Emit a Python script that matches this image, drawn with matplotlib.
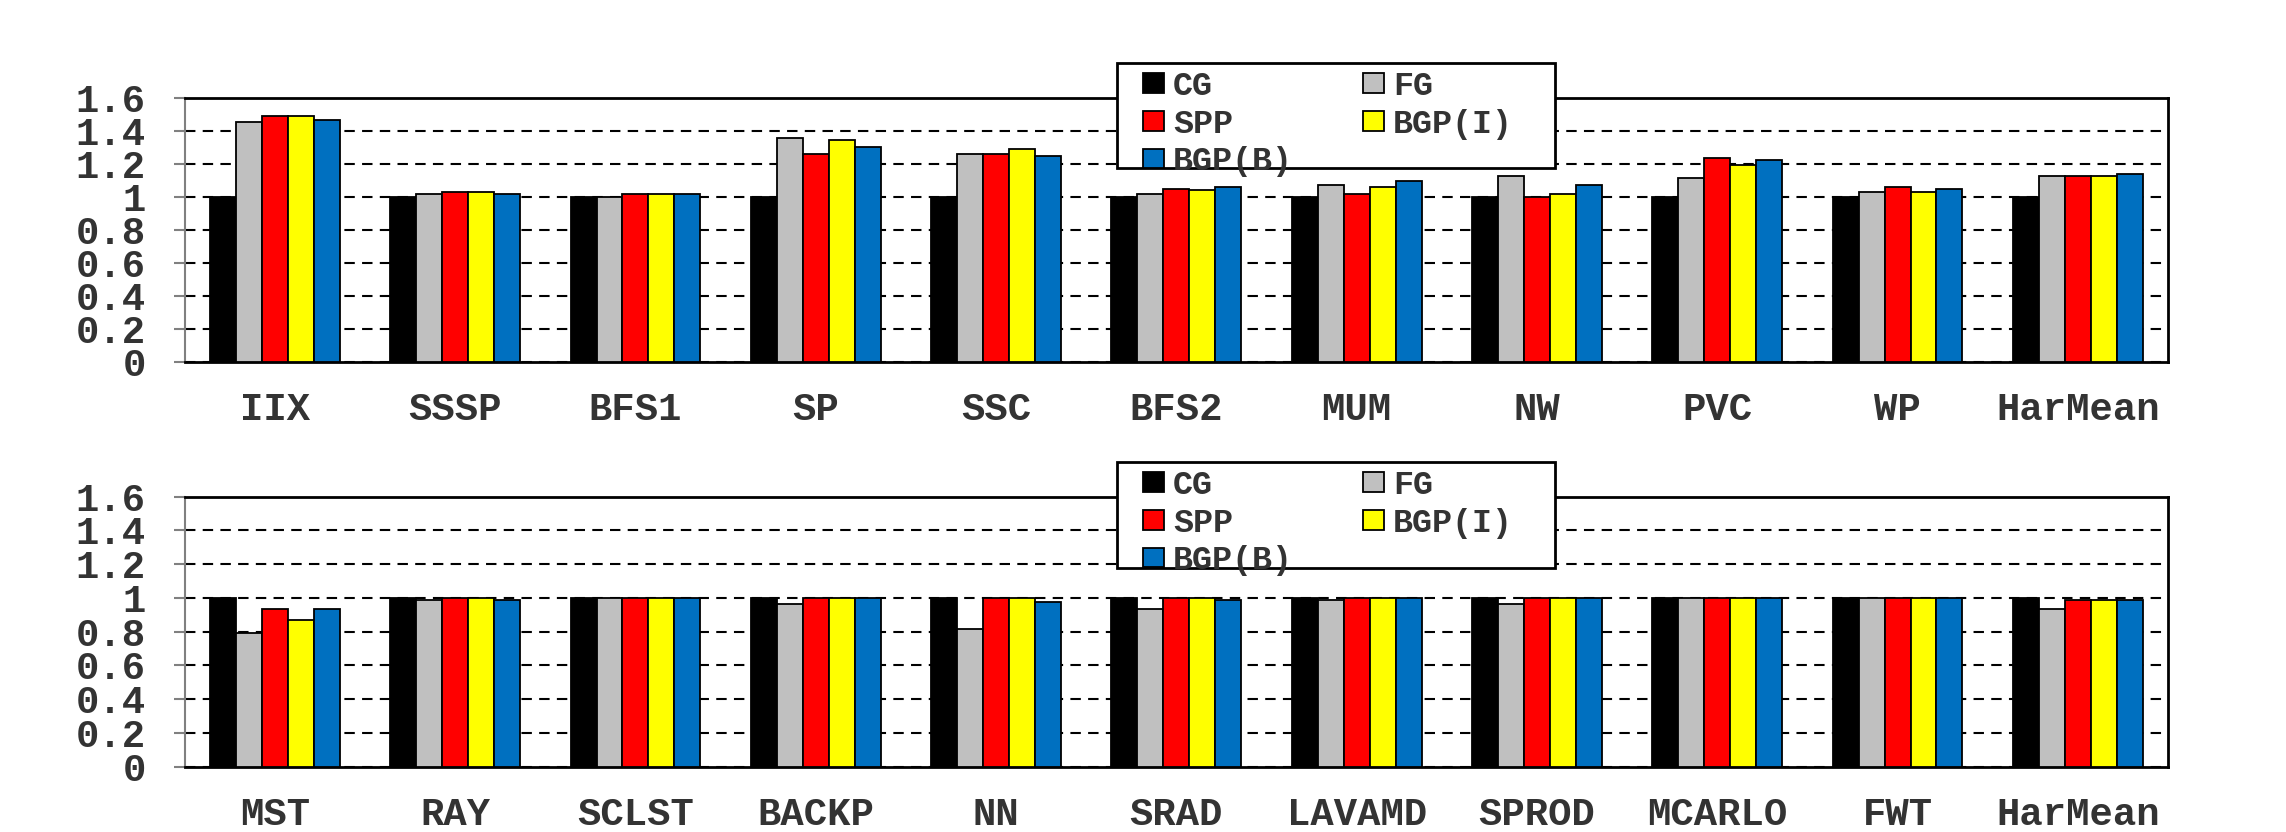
import matplotlib
matplotlib.use("Agg")
import matplotlib.pyplot as plt
from matplotlib.patches import Rectangle
import numpy as np


SERIES = ["CG", "FG", "SPP", "BGP(I)", "BGP(B)"]
COLORS = ["#000000", "#c0c0c0", "#ff0000", "#ffff00", "#0070c0"]

# Speedup normalised to CG - first group of benchmarks
TOP_LABELS = ["IIX", "SSSP", "BFS1", "SP", "SSC", "BFS2", "MUM", "NW", "PVC", "WP", "HarMean"]
TOP_CG = [1.0, 1.0, 1.0, 1.0, 1.0, 1.0, 1.0, 1.0, 1.0, 1.0, 1.0]
TOP_FG = [1.45, 1.016, 1.0, 1.354, 1.259, 1.016, 1.071, 1.125, 1.113, 1.03, 1.125]
TOP_SPP = [1.49, 1.028, 1.016, 1.259, 1.259, 1.044, 1.016, 1.0, 1.232, 1.059, 1.125]
TOP_BGPI = [1.49, 1.028, 1.016, 1.341, 1.287, 1.04, 1.059, 1.016, 1.19, 1.028, 1.125]
TOP_BGPB = [1.463, 1.016, 1.016, 1.301, 1.246, 1.059, 1.097, 1.071, 1.22, 1.044, 1.137]

# Second group of benchmarks
BOT_LABELS = ["MST", "RAY", "SCLST", "BACKP", "NN", "SRAD", "LAVAMD", "SPROD", "MCARLO", "FWT", "HarMean"]
BOT_CG = [1.0, 1.0, 1.0, 1.0, 1.0, 1.0, 1.0, 1.0, 1.0, 1.0, 1.0]
BOT_FG = [0.79, 0.988, 1.0, 0.964, 0.818, 0.934, 0.988, 0.964, 1.0, 1.0, 0.934]
BOT_SPP = [0.936, 1.0, 1.0, 1.0, 1.0, 1.0, 1.0, 1.0, 1.0, 1.0, 0.988]
BOT_BGPI = [0.869, 1.0, 1.0, 1.0, 1.0, 1.0, 1.0, 1.0, 1.0, 1.0, 0.986]
BOT_BGPB = [0.936, 0.988, 1.0, 1.0, 0.978, 0.99, 1.0, 1.0, 1.0, 1.0, 0.988]

YTICKS = [0, 0.2, 0.4, 0.6, 0.8, 1.0, 1.2, 1.4, 1.6]
YTICK_LABELS = ["0", "0.2", "0.4", "0.6", "0.8", "1", "1.2", "1.4", "1.6"]

FONT = "Liberation Mono"
TEXT_COLOR = "#333333"

FIG_W, FIG_H = 2286, 832


def px_box(x0, y0, x1, y1):
    # pixel box (top-left origin) -> figure fraction rectangle
    return (x0 / FIG_W, 1 - y1 / FIG_H, (x1 - x0) / FIG_W, (y1 - y0) / FIG_H)


def draw_panel(fig, ax, labels, series_values, legend_box):
    x = np.arange(len(labels))
    group_width = 0.72
    width = group_width / len(series_values)

    bars = []
    for i, (values, color) in enumerate(zip(series_values, COLORS)):
        offset = -group_width / 2 + width * (i + 0.5)
        b = ax.bar(
            x + offset,
            values,
            width,
            color=color,
            edgecolor="black",
            linewidth=1.3,
            zorder=3,
            label=SERIES[i],
        )
        bars.append(b)

    ax.set_xlim(-0.5, len(labels) - 0.5)
    ax.set_ylim(0, 1.6)
    ax.set_yticks(YTICKS)
    ax.set_yticklabels(YTICK_LABELS, fontfamily=FONT, fontweight="bold",
                       fontsize=28, color=TEXT_COLOR)
    ax.set_xticks(x)
    ax.set_xticklabels(labels, fontfamily=FONT, fontweight="bold",
                       fontsize=28, color=TEXT_COLOR)

    ax.tick_params(axis="x", length=0, pad=22)
    ax.tick_params(axis="y", length=8, width=1.5, color="#808080", pad=20)

    # dashed horizontal grid behind the bars
    ax.yaxis.grid(True, color="black", linestyle=(0, (5, 3.5)), linewidth=1.5, zorder=0)
    ax.set_axisbelow(True)

    for side in ["top", "right", "bottom"]:
        ax.spines[side].set_color("black")
        ax.spines[side].set_linewidth(2)
    ax.spines["left"].set_color("#808080")
    ax.spines["left"].set_linewidth(1.5)

    # legend frame drawn as a figure patch so it sits on top of the axes
    bx0, by0, bx1, by1 = legend_box
    fx, fy, fw, fh = px_box(bx0, by0, bx1, by1)
    frame = Rectangle((fx, fy), fw, fh, transform=fig.transFigure,
                      facecolor="white", edgecolor="black", linewidth=2,
                      zorder=4)
    fig.patches.append(frame)

    # entries ordered so the two columns read CG/FG, SPP/BGP(I), BGP(B)
    order = [0, 2, 4, 1, 3]
    leg = fig.legend(
        [bars[i] for i in order],
        [SERIES[i] for i in order],
        ncol=2,
        loc="upper left",
        bbox_to_anchor=((bx0 + 26) / FIG_W, 1 - (by0 + 8) / FIG_H),
        bbox_transform=fig.transFigure,
        borderaxespad=0,
        borderpad=0,
        frameon=False,
        prop={"family": FONT, "weight": "bold", "size": 24},
        handlelength=0.63,
        handleheight=0.53,
        handletextpad=0.27,
        columnspacing=2.1,
        labelspacing=0.2,
    )
    leg.set_zorder(5)
    for t in leg.get_texts():
        t.set_color(TEXT_COLOR)


fig = plt.figure(figsize=(FIG_W / 100, FIG_H / 100), dpi=100)

ax_top = fig.add_axes(px_box(184.7, 97.7, 2168, 361.7))
draw_panel(fig, ax_top, TOP_LABELS,
           [TOP_CG, TOP_FG, TOP_SPP, TOP_BGPI, TOP_BGPB],
           (1117, 63, 1555, 168))

ax_bot = fig.add_axes(px_box(184.7, 496.7, 2168, 766.7))
draw_panel(fig, ax_bot, BOT_LABELS,
           [BOT_CG, BOT_FG, BOT_SPP, BOT_BGPI, BOT_BGPB],
           (1117, 462, 1555, 568))

fig.savefig("out.png", dpi=100)
